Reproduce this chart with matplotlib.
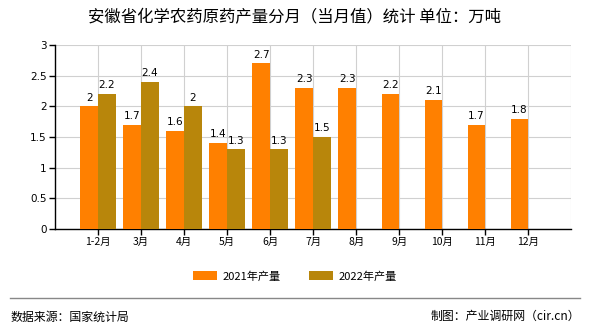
import matplotlib.pyplot as plt
import numpy as np

plt.rcParams['font.family'] = ['Noto Sans CJK SC', 'DejaVu Sans']

months = ['1-2月', '3月', '4月', '5月', '6月', '7月', '8月', '9月', '10月', '11月', '12月']
y2021 = [2, 1.7, 1.6, 1.4, 2.7, 2.3, 2.3, 2.2, 2.1, 1.7, 1.8]
y2022 = [2.2, 2.4, 2, 1.3, 1.3, 1.5]
yticks = [0, 0.5, 1, 1.5, 2, 2.5, 3]
ylabels = ['0', '0.5', '1', '1.5', '2', '2.5', '3']

c21 = '#FF8000'
c22 = '#B8860B'
w = 0.41

fig = plt.figure(figsize=(5.9, 3.3), dpi=100)
ax = fig.add_axes([0.0932, 0.306, 0.875, 0.558])

x = np.arange(len(months))
x2 = np.arange(len(y2022))
b1 = ax.bar(x - w / 2, y2021, w, color=c21, zorder=3, label='2021年产量')
b2 = ax.bar(x2 + w / 2, y2022, w, color=c22, zorder=3, label='2022年产量')

for xi, v in zip(x - w / 2, y2021):
    ax.text(xi, v + 0.06, f'{v:g}', ha='center', va='bottom', fontsize=7.5,
            family='DejaVu Sans')
for xi, v in zip(x2 + w / 2, y2022):
    ax.text(xi, v + 0.06, f'{v:g}', ha='center', va='bottom', fontsize=7.5,
            family='DejaVu Sans')

ax.set_xlim(-1, 11)
ax.set_ylim(0, 3)
ax.set_xticks(x)
ax.set_xticklabels(months, fontsize=7.5)
ax.set_yticks(yticks)
ax.set_yticklabels(ylabels, fontsize=7.5, family='DejaVu Sans')
ax.grid(True, color='#d0d0d0', linewidth=0.8, zorder=0)
ax.axvline(11, color='#d0d0d0', linewidth=0.8, zorder=0)
for s in ['top', 'right']:
    ax.spines[s].set_visible(False)
for s in ['left', 'bottom']:
    ax.spines[s].set_color('black')
    ax.spines[s].set_linewidth(1)
ax.tick_params(axis='both', length=4, width=1, color='black', pad=2)

fig.text(0.5, 0.945, '安徽省化学农药原药产量分月（当月值）统计 单位：万吨',
         ha='center', va='center', fontsize=11.8)

fig.legend(handles=[b1, b2], loc='center', bbox_to_anchor=(0.5, 0.163), ncol=2,
           frameon=False, fontsize=8, handlelength=2.2, handleheight=0.9,
           columnspacing=2.5, handletextpad=0.5)

fig.add_artist(plt.Line2D([0.017, 0.983], [0.097, 0.097], color='#888888',
                          linewidth=1, transform=fig.transFigure))
fig.text(0.017, 0.04, '数据来源：国家统计局', ha='left', va='center', fontsize=8.6)
fig.text(0.983, 0.04, '制图：产业调研网（cir.cn）', ha='right', va='center', fontsize=8.6)

fig.savefig('out.png', dpi=100)
